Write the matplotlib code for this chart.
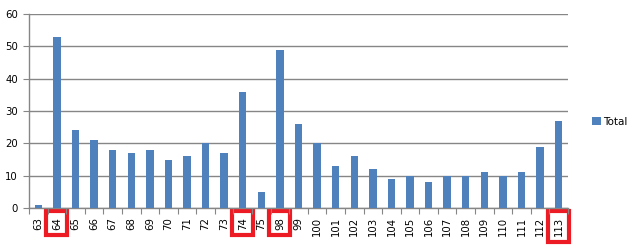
import matplotlib
matplotlib.use("Agg")
import matplotlib.pyplot as plt
import numpy as np

categories = ["63", "64", "65", "66", "67", "68", "69", "70", "71", "72", "73", "74", "75",
              "98", "99", "100", "101", "102", "103", "104", "105", "106", "107", "108",
              "109", "110", "111", "112", "113"]
totals = [1, 53, 24, 21, 18, 17, 18, 15, 16, 20, 17, 36, 5,
          49, 26, 20, 13, 16, 12, 9, 10, 8, 10, 10, 11, 10, 11, 19, 27]
highlighted = ["64", "74", "98", "113"]
y_ticks = [0, 10, 20, 30, 40, 50, 60]

bar_color = "#4F81BD"
grid_color = "#868686"
red = "#ED1C24"

plt.rcParams['font.family'] = ['DejaVu Sans']
fig = plt.figure(figsize=(6.31, 2.45), dpi=100)
ax = fig.add_axes([29/631, 1-208/245, (568-29)/631, (208-14)/245])

x = np.arange(len(categories))
bars = ax.bar(x, totals, width=0.4, color=bar_color, label="Total", zorder=3)

ax.set_xlim(-0.5, len(categories)-0.5)
ax.set_ylim(0, 60)
ax.set_yticks(y_ticks)
ax.set_yticklabels([str(v) for v in y_ticks], fontsize=7.3)
ax.yaxis.grid(True, color=grid_color, linewidth=1.0, zorder=0)
ax.tick_params(axis='y', length=4, width=0.8, color=grid_color, pad=4)

ax.set_xticks(x)
ax.set_xticklabels(categories, rotation=90, fontsize=7.3)
ax.set_xticks(np.arange(-0.5, len(categories)), minor=True)
ax.tick_params(axis='x', which='major', length=0, pad=6.5)
ax.tick_params(axis='x', which='minor', length=4, width=0.8, color=grid_color)

for s in ['top', 'right']:
    ax.spines[s].set_visible(False)
for s in ['left', 'bottom']:
    ax.spines[s].set_color(grid_color)
    ax.spines[s].set_linewidth(1.0)

for lbl in ax.get_xticklabels():
    if lbl.get_text() in highlighted:
        lbl.set_bbox(dict(boxstyle='square,pad=0.55', facecolor='white',
                          edgecolor=red, linewidth=3.0))

leg = ax.legend(loc='center left', bbox_to_anchor=(587/631, 1-122/245),
                bbox_transform=fig.transFigure, frameon=False, fontsize=7.5,
                handlelength=0.8, handleheight=0.8, handletextpad=0.2, borderpad=0)

fig.savefig("out.png", dpi=100)
